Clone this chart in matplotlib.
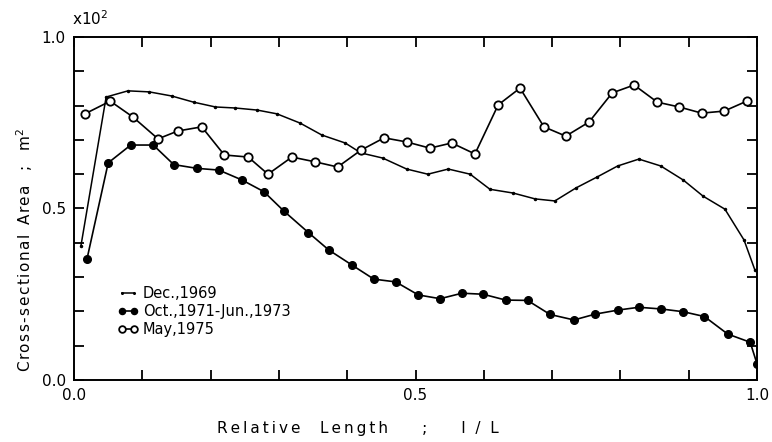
import numpy as np
from matplotlib import pyplot as plt
from matplotlib.ticker import MultipleLocator

# Dec. 1969
x_dec = [0.01, 0.047, 0.079, 0.11, 0.143, 0.175, 0.207, 0.236, 0.268, 0.297, 0.331,
         0.363, 0.397, 0.42, 0.452, 0.487, 0.518, 0.548, 0.58, 0.609, 0.643, 0.675,
         0.704, 0.735, 0.766, 0.796, 0.827, 0.859, 0.892, 0.921, 0.953, 0.981, 0.997]
y_dec = [0.39, 0.825, 0.843, 0.84, 0.828, 0.81, 0.796, 0.793, 0.787, 0.776, 0.749,
         0.714, 0.691, 0.662, 0.647, 0.615, 0.60, 0.615, 0.60, 0.556, 0.545, 0.528,
         0.522, 0.56, 0.592, 0.624, 0.644, 0.624, 0.583, 0.536, 0.498, 0.408, 0.32]

# Oct. 1971 - Jun. 1973
x_oct = [0.019, 0.05, 0.083, 0.116, 0.146, 0.18, 0.212, 0.246, 0.278, 0.307, 0.343,
         0.373, 0.407, 0.439, 0.471, 0.504, 0.536, 0.568, 0.599, 0.632, 0.664, 0.697,
         0.732, 0.763, 0.797, 0.827, 0.86, 0.892, 0.923, 0.957, 0.99, 1.0]
y_oct = [0.353, 0.633, 0.685, 0.685, 0.628, 0.617, 0.612, 0.583, 0.549, 0.493, 0.43,
         0.379, 0.335, 0.294, 0.286, 0.248, 0.237, 0.253, 0.25, 0.233, 0.232, 0.191,
         0.175, 0.192, 0.204, 0.212, 0.207, 0.199, 0.185, 0.134, 0.11, 0.047]

# May 1975
x_may = [0.016, 0.053, 0.086, 0.123, 0.152, 0.187, 0.22, 0.255, 0.284, 0.319, 0.353,
         0.386, 0.42, 0.454, 0.487, 0.521, 0.553, 0.587, 0.621, 0.653, 0.688, 0.72,
         0.754, 0.788, 0.82, 0.854, 0.886, 0.919, 0.952, 0.985]
y_may = [0.776, 0.813, 0.767, 0.703, 0.726, 0.738, 0.656, 0.65, 0.60, 0.65, 0.636,
         0.621, 0.67, 0.706, 0.694, 0.676, 0.691, 0.659, 0.802, 0.851, 0.738, 0.711,
         0.752, 0.837, 0.86, 0.81, 0.796, 0.778, 0.784, 0.813]


def spaced(s, gap='\u2009'):
    # letter-spaced look of the original typewriter labels
    return gap.join(s)


fig = plt.figure(figsize=(7.72, 4.42), dpi=100)
ax = fig.add_axes([0.0959, 0.1403, 0.8847, 0.776])

ax.plot(x_dec, y_dec, '-', marker='.', markersize=3, color='black', lw=1.1,
        label='Dec.,1969')
ax.plot(x_oct, y_oct, '-', marker='o', markersize=5.5, color='black', lw=1.2,
        label='Oct.,1971-Jun.,1973')
ax.plot(x_may, y_may, '-', marker='o', markersize=6, color='black', lw=1.2,
        markerfacecolor='white', markeredgewidth=1.3, label='May,1975')

ax.set_xlim(0, 1)
ax.set_ylim(0, 1)
ax.set_xticks([0, 0.5, 1.0])
ax.set_yticks([0, 0.5, 1.0])
ax.set_xticklabels(['0.0', '0.5', '1.0'])
ax.set_yticklabels(['0.0', '0.5', '1.0'])
ax.xaxis.set_minor_locator(MultipleLocator(0.1))
ax.yaxis.set_minor_locator(MultipleLocator(0.1))
ax.tick_params(which='both', direction='in', top=True, right=True, width=1.3,
               labelsize=11, pad=6)
ax.tick_params(which='major', length=7)
ax.tick_params(which='minor', length=7)
for s in ax.spines.values():
    s.set_linewidth(1.4)

xlab = spaced('Relative') + '    ' + spaced('Length') + '       ;       l  /  L'
ax.set_xlabel(xlab, fontsize=11, labelpad=13, x=0.415)
ylab = spaced('Cross-sectional', '\u200a') + '  ' + spaced('Area', '\u200a') + '   ;   m$^2$'
ax.set_ylabel(ylab, fontsize=11, labelpad=5, y=0.38)
ax.text(-0.003, 1.025, r'x10$^2$', transform=ax.transAxes, fontsize=11,
        ha='left', va='bottom')

ax.legend(loc='lower left', bbox_to_anchor=(0.056, 0.108), frameon=False,
          fontsize=10.5, handlelength=1.4, handletextpad=0.3, labelspacing=0.2,
          borderaxespad=0, numpoints=2, markerscale=0.8)

fig.savefig('out.png', dpi=100)
